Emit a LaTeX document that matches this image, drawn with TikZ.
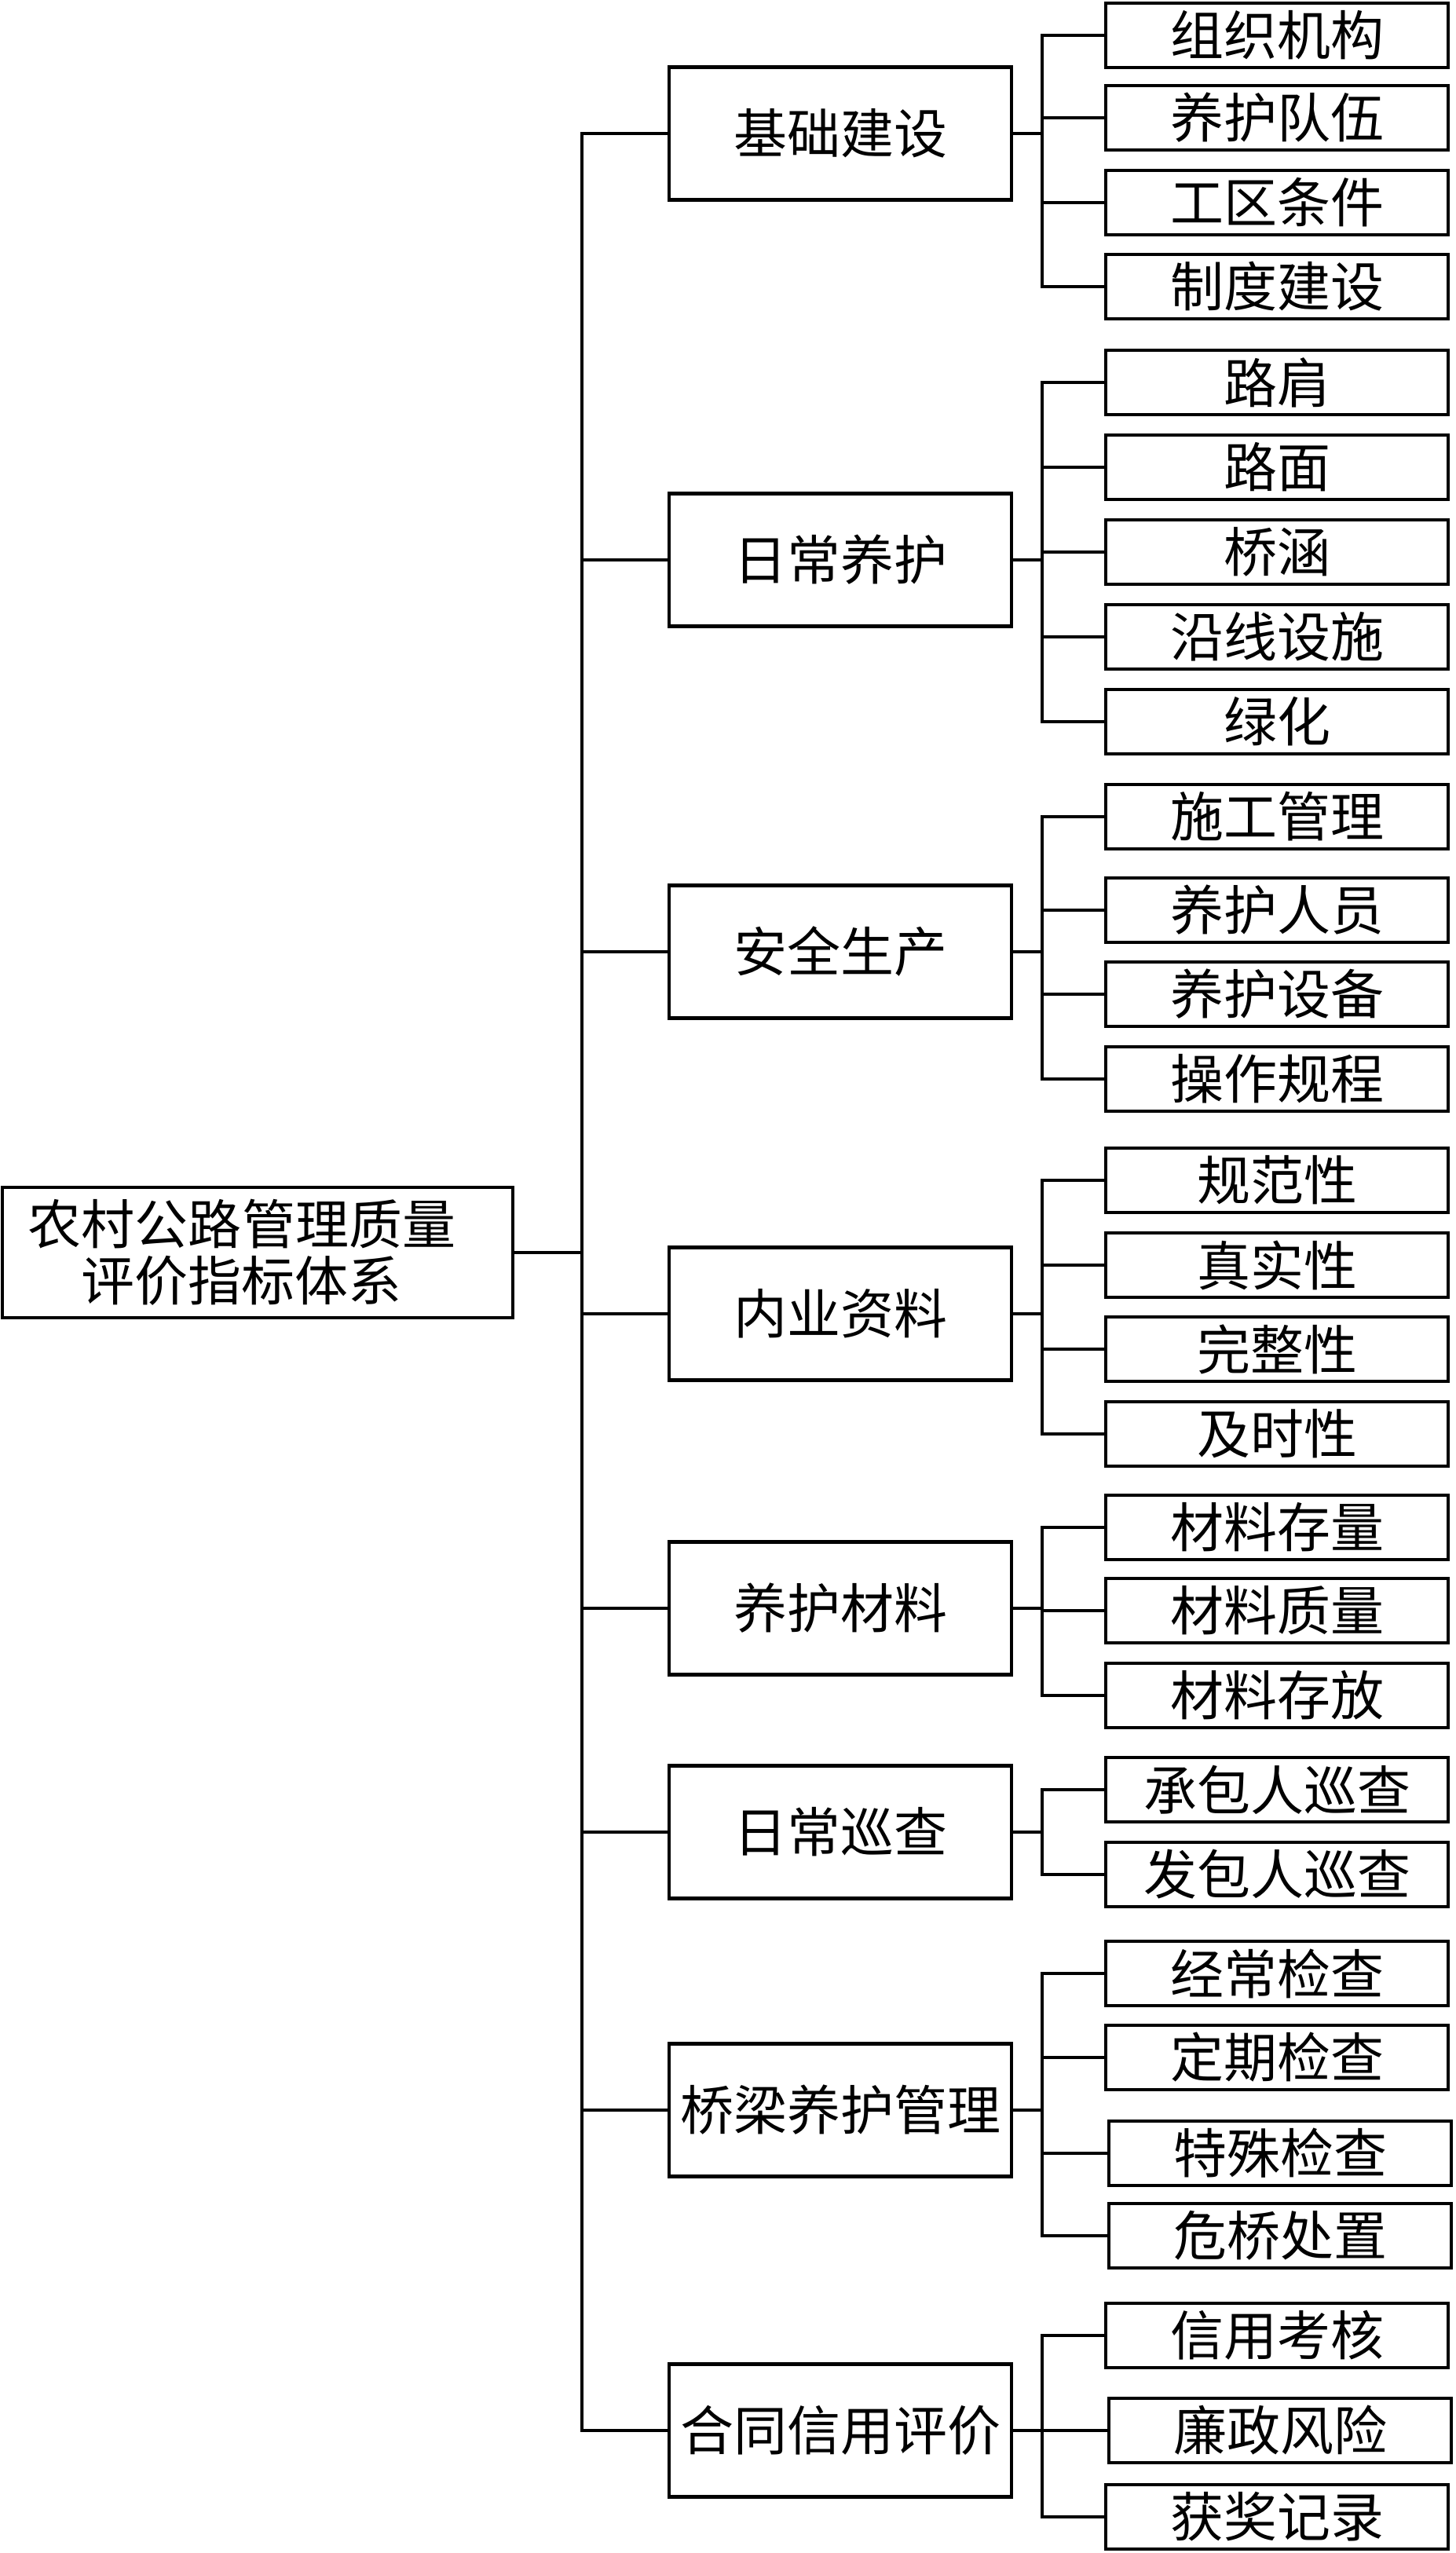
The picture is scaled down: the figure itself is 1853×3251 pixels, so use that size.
\documentclass[tikz,border=0pt]{standalone}
\usepackage{fontspec}
\newfontfamily\cjk{Noto Sans CJK SC}
\begin{document}
\begin{tikzpicture}[x=0.25pt, y=-0.25pt, line width=1.2pt,
  every node/.style={font=\cjk\fontsize{17}{18}\selectfont, inner sep=0pt},
  rootbox/.style={draw, align=center, minimum width=162.5pt, minimum height=41.5pt},
  midbox/.style={draw, minimum width=109pt, minimum height=42.25pt},
  leafbox/.style={draw, minimum width=109pt, minimum height=20.5pt}]
  \useasboundingbox (0,0) rectangle (1853,3251);

  \node[rootbox] (root) at (328,1595) {农村公路管理质量\hspace*{10pt}\\评价指标体系\hspace*{10pt}};

  \node[midbox] (jichu) at (1070,170) {基础建设};
  \node[midbox] (richang) at (1070,713) {日常养护};
  \node[midbox] (anquan) at (1070,1212) {安全生产};
  \node[midbox] (neiye) at (1070,1673) {内业资料};
  \node[midbox] (cailiao) at (1070,2048) {养护材料};
  \node[midbox] (xuncha) at (1070,2333) {日常巡查};
  \node[midbox] (qiaoliang) at (1070,2687) {桥梁养护管理};
  \node[midbox] (hetong) at (1070,3095) {合同信用评价};

  \node[leafbox] (zuzhi) at (1626,45) {组织机构};
  \node[leafbox] (duiwu) at (1626,150) {养护队伍};
  \node[leafbox] (gongqu) at (1626,258) {工区条件};
  \node[leafbox] (zhidu) at (1626,365) {制度建设};

  \node[leafbox] (lujian) at (1626,487) {路肩};
  \node[leafbox] (lumian) at (1626,595) {路面};
  \node[leafbox] (qiaohan) at (1626,703) {桥涵};
  \node[leafbox] (yanxian) at (1626,811) {沿线设施};
  \node[leafbox] (lvhua) at (1626,919) {绿化};

  \node[leafbox] (shigong) at (1626,1040) {施工管理};
  \node[leafbox] (renyuan) at (1626,1159) {养护人员};
  \node[leafbox] (shebei) at (1626,1266) {养护设备};
  \node[leafbox] (guicheng) at (1626,1374) {操作规程};

  \node[leafbox] (guifan) at (1626,1503) {规范性};
  \node[leafbox] (zhenshi) at (1626,1611) {真实性};
  \node[leafbox] (wanzheng) at (1626,1718) {完整性};
  \node[leafbox] (jishi) at (1626,1826) {及时性};

  \node[leafbox] (cunliang) at (1626,1945) {材料存量};
  \node[leafbox] (zhiliang) at (1626,2051) {材料质量};
  \node[leafbox] (cunfang) at (1626,2159) {材料存放};

  \node[leafbox] (chengbao) at (1626,2279) {承包人巡查};
  \node[leafbox] (fabao) at (1626,2387) {发包人巡查};

  \node[leafbox] (jingchang) at (1626,2513) {经常检查};
  \node[leafbox] (dingqi) at (1626,2620) {定期检查};
  \node[leafbox] (teshu) at (1630,2742) {特殊检查};
  \node[leafbox] (weiqiao) at (1630,2847) {危桥处置};

  \node[leafbox] (xinyong) at (1626,2974) {信用考核};
  \node[leafbox] (lianzheng) at (1630,3095) {廉政风险};
  \node[leafbox] (huojiang) at (1626,3205) {获奖记录};

  \coordinate (trunk) at (741,1595);
  \coordinate (bjichu) at (1327,170);
  \coordinate (brichang) at (1327,713);
  \coordinate (banquan) at (1327,1212);
  \coordinate (bneiye) at (1327,1673);
  \coordinate (bcailiao) at (1327,2048);
  \coordinate (bxuncha) at (1327,2333);
  \coordinate (bqiaoliang) at (1327,2687);
  \coordinate (bhetong) at (1327,3095);

  \draw (root) -- (trunk);
  \foreach \m in {jichu,richang,anquan,neiye,cailiao,xuncha,qiaoliang,hetong}
    \draw (trunk) |- (\m.west);

  \foreach \m/\ls in {jichu/{zuzhi,duiwu,gongqu,zhidu},
      richang/{lujian,lumian,qiaohan,yanxian,lvhua},
      anquan/{shigong,renyuan,shebei,guicheng},
      neiye/{guifan,zhenshi,wanzheng,jishi},
      cailiao/{cunliang,zhiliang,cunfang},
      xuncha/{chengbao,fabao},
      qiaoliang/{jingchang,dingqi,teshu,weiqiao},
      hetong/{xinyong,lianzheng,huojiang}} {
    \draw (\m.east) -- (b\m);
    \foreach \n in \ls
      \draw (b\m) |- (\n.west);
  }
\end{tikzpicture}
\end{document}
